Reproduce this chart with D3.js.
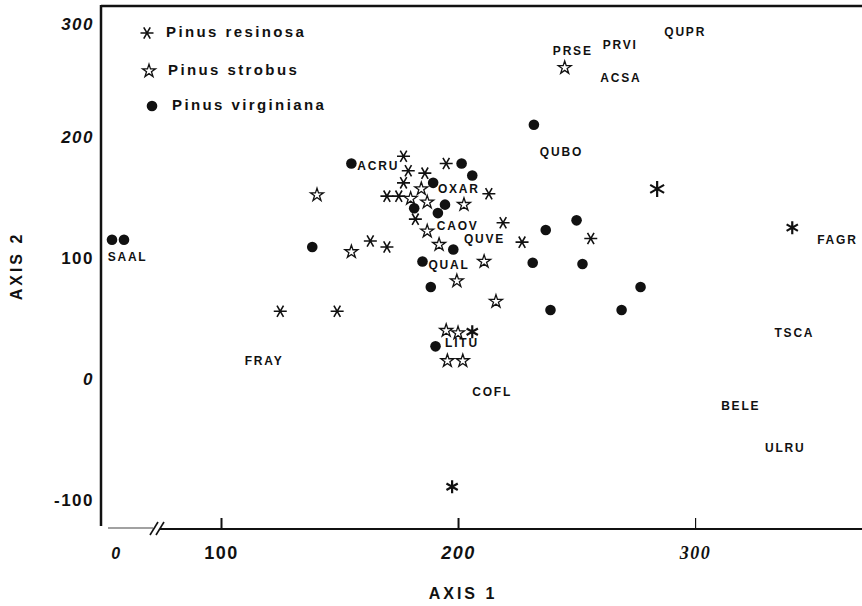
<!DOCTYPE html>
<html>
<head>
<meta charset="utf-8">
<title>Ordination axis 1 vs axis 2</title>
<script src="https://cdn.jsdelivr.net/npm/d3@7"></script>
<style>
  body { margin: 0; background: #fff; }
  text { font-family: "Liberation Sans", Arial, sans-serif; fill: #111; }
</style>
</head>
<body>
<svg id="chart" width="862" height="606"></svg>
<script>
// ---- data (axis 1, axis 2 scores) ----
const resinosaX = [125, 149, 163, 170, 177, 179, 186, 195, 177, 170, 175, 213, 182, 219, 227, 256, 206, 197.5, 284, 341];
const resinosaY = [54, 54, 112, 107, 182, 170, 168, 176, 160, 149, 149, 151, 130, 127, 111, 114, 37, -91, 155, 123];

const strobusX = [245, 140.5, 155, 184.5, 180, 187, 202.5, 187, 192, 211, 199.5, 216, 195, 200, 195.5, 202];
const strobusY = [255, 150, 103, 155, 147, 144, 142, 120, 109, 95, 79, 62, 38, 36, 13, 13];

const virginianaX = [0, 11, 138.5, 155, 201.5, 206, 189.5, 181.5, 194.5, 191.5, 198, 185, 188.5, 190.5, 232, 237, 250, 231.5, 252.5, 239, 269, 277];
const virginianaY = [113, 113, 107, 176, 176, 166, 160, 139, 142, 135, 105, 95, 74, 25, 208, 121, 129, 94, 93, 55, 55, 74];

const speciesNames = ["ACRU", "OXAR", "CAOV", "QUVE", "QUAL", "LITU", "SAAL", "FRAY", "COFL", "QUBO", "PRSE", "PRVI", "QUPR", "ACSA", "FAGR", "TSCA", "BELE", "ULRU"];
const speciesX = [157.5, 191.5, 191, 202.5, 187.5, 194.5, -4, 110, 206, 234.5, 240, 261, 287, 260, 351.5, 333.5, 311, 329.5];
const speciesY = [173.5, 154.5, 124, 113, 91.5, 27, 98, 12.5, -13, 185, 268, 273.5, 283.5, 246, 112.5, 35.5, -25, -60];

const legendNames = ["Pinus resinosa", "Pinus strobus", "Pinus virginiana"];
const xTicks = [0, 100, 200, 300];
const yTicks = [300, 200, 100, 0, -100];

// ---- layout ----
const svg = d3.select('#chart');
const width = +svg.attr('width');
const height = +svg.attr('height');
const frameLeft = 101, frameTop = 6, baseY = 529;

// axis 1 is broken between 0 and 100
const x = d3.scaleLinear()
  .domain([0, 100, 370])
  .range([112, 221, 861]);

const y = d3.scaleLinear()
  .domain([-125, 306])
  .range([528, 6]);

// marker shapes
const asterisk = r => `M${-r},0L${r},0M${-r / 2},${-r * 0.87}L${r / 2},${r * 0.87}M${-r / 2},${r * 0.87}L${r / 2},${-r * 0.87}`;
const typedAsterisk = r => `M0,${-r}L0,${r}M${-r * 0.87},${-r / 2}L${r * 0.87},${r / 2}M${-r * 0.87},${r / 2}L${r * 0.87},${-r / 2}`;
const star = d3.symbol().type(d3.symbolStar).size(52);

// ---- frame ----
svg.append('line')
  .attr('x1', frameLeft).attr('x2', frameLeft)
  .attr('y1', frameTop - 1).attr('y2', 526)
  .attr('stroke', '#111').attr('stroke-width', 2.5);
svg.append('line')
  .attr('x1', frameLeft).attr('x2', width)
  .attr('y1', frameTop).attr('y2', frameTop)
  .attr('stroke', '#111').attr('stroke-width', 2.5);

// bottom axis line with the break
svg.append('line')
  .attr('x1', 108).attr('x2', 153)
  .attr('y1', baseY - 1).attr('y2', baseY - 1)
  .attr('stroke', '#444').attr('stroke-width', 1.2);
svg.append('line')
  .attr('x1', 160).attr('x2', width)
  .attr('y1', baseY).attr('y2', baseY)
  .attr('stroke', '#111').attr('stroke-width', 1.8);
[0, 6].forEach(off => {
  svg.append('line')
    .attr('x1', 150 + off).attr('y1', 535)
    .attr('x2', 158 + off).attr('y2', 522)
    .attr('stroke', '#111').attr('stroke-width', 1.6);
});

// ---- x axis ----
const xaxis = d3.axisBottom(x)
  .tickValues(xTicks)
  .tickFormat(d => String(d))
  .tickSizeInner(-10)
  .tickSizeOuter(0)
  .tickPadding(0);

const gx = svg.append('g')
  .attr('transform', `translate(0,${baseY - 1})`)
  .call(xaxis);
gx.select('.domain').remove();
gx.selectAll('.tick line')
  .attr('stroke', '#111')
  .attr('stroke-width', d => d === 300 ? 1.2 : 2)
  .attr('opacity', d => d === 0 ? 0 : 1);
gx.selectAll('.tick text')
  .attr('y', 25)
  .attr('dy', '0.35em')
  .attr('dx', d => d === 0 ? 4 : 0)
  .style('font-family', d => d === 300 ? '"Liberation Serif", "Times New Roman", serif' : '"Liberation Sans", Arial, sans-serif')
  .style('font-size', d => d === 0 ? '16px' : '18px')
  .style('font-weight', 'bold')
  .style('font-style', d => d === 100 ? 'normal' : 'italic')
  .style('letter-spacing', '1.5px')
  .attr('fill', '#111');

svg.append('text')
  .attr('x', 463).attr('y', 595)
  .attr('text-anchor', 'middle')
  .attr('dominant-baseline', 'middle')
  .style('font-size', '16px').style('font-weight', 'bold')
  .style('letter-spacing', '3px')
  .text('AXIS 1');

// ---- y axis ----
const yaxis = d3.axisLeft(y)
  .tickValues(yTicks)
  .tickFormat(d => String(d))
  .tickSize(0)
  .tickPadding(7);

const gy = svg.append('g')
  .attr('transform', `translate(${frameLeft},0)`)
  .call(yaxis);
gy.select('.domain').remove();
gy.selectAll('.tick text')
  .attr('dy', d => d === 300 ? '0.95em' : '0.45em')
  .style('font-size', '17px')
  .style('font-weight', 'bold')
  .style('font-style', d => (d === 100 || d === -100) ? 'normal' : 'italic')
  .style('letter-spacing', '1.5px')
  .attr('fill', '#111');

svg.append('text')
  .attr('transform', 'translate(18,266) rotate(-90)')
  .attr('text-anchor', 'middle')
  .attr('dominant-baseline', 'middle')
  .style('font-size', '16px').style('font-weight', 'bold')
  .style('letter-spacing', '3px')
  .text('AXIS 2');

// ---- points ----
const plot = svg.append('g');

plot.selectAll('path.resinosa')
  .data(resinosaX.map((d, i) => ({ x: d, y: resinosaY[i], i })))
  .enter()
  .append('path')
  .attr('class', 'resinosa')
  .attr('transform', d => `translate(${x(d.x)},${y(d.y)})`)
  .attr('d', d => d.i === 18 ? typedAsterisk(8) : (d.i >= 16 ? typedAsterisk(6.5) : asterisk(6.5)))
  .attr('fill', 'none')
  .attr('stroke', '#111')
  .attr('stroke-width', d => d.i >= 16 ? 2.2 : 1.6);

plot.selectAll('path.strobus')
  .data(strobusX.map((d, i) => ({ x: d, y: strobusY[i] })))
  .enter()
  .append('path')
  .attr('class', 'strobus')
  .attr('transform', d => `translate(${x(d.x)},${y(d.y)})`)
  .attr('d', star)
  .attr('fill', '#fff')
  .attr('stroke', '#111')
  .attr('stroke-width', 1.3);

plot.selectAll('circle.virginiana')
  .data(virginianaX.map((d, i) => ({ x: d, y: virginianaY[i] })))
  .enter()
  .append('circle')
  .attr('class', 'virginiana')
  .attr('cx', d => x(d.x))
  .attr('cy', d => y(d.y))
  .attr('r', 5.3)
  .attr('fill', '#111');

// species labels
plot.selectAll('text.species')
  .data(speciesNames.map((d, i) => ({ name: d, x: speciesX[i], y: speciesY[i] })))
  .enter()
  .append('text')
  .attr('class', 'species')
  .attr('x', d => x(d.x))
  .attr('y', d => y(d.y))
  .attr('dominant-baseline', 'middle')
  .style('font-size', '12px')
  .style('font-weight', 'bold')
  .style('letter-spacing', '1.8px')
  .text(d => d.name);

// ---- legend ----
const legend = svg.append('g');
const legendRows = [33, 71, 106];
legendNames.forEach((name, i) => {
  const row = legend.append('g').attr('transform', `translate(0,${legendRows[i]})`);
  if (i === 0) {
    row.append('path').attr('transform', 'translate(147,0)')
      .attr('d', asterisk(6.5)).attr('fill', 'none')
      .attr('stroke', '#111').attr('stroke-width', 1.6);
  } else if (i === 1) {
    row.append('path').attr('transform', 'translate(149,0)')
      .attr('d', star).attr('fill', '#fff')
      .attr('stroke', '#111').attr('stroke-width', 1.3);
  } else {
    row.append('circle').attr('cx', 152).attr('cy', 0).attr('r', 5.3).attr('fill', '#111');
  }
  row.append('text')
    .attr('x', [166, 168, 172][i])
    .attr('y', 0)
    .attr('dominant-baseline', 'middle')
    .style('font-size', '15px')
    .style('font-weight', 'bold')
    .style('letter-spacing', '2.4px')
    .text(name);
});
</script>
</body>
</html>
